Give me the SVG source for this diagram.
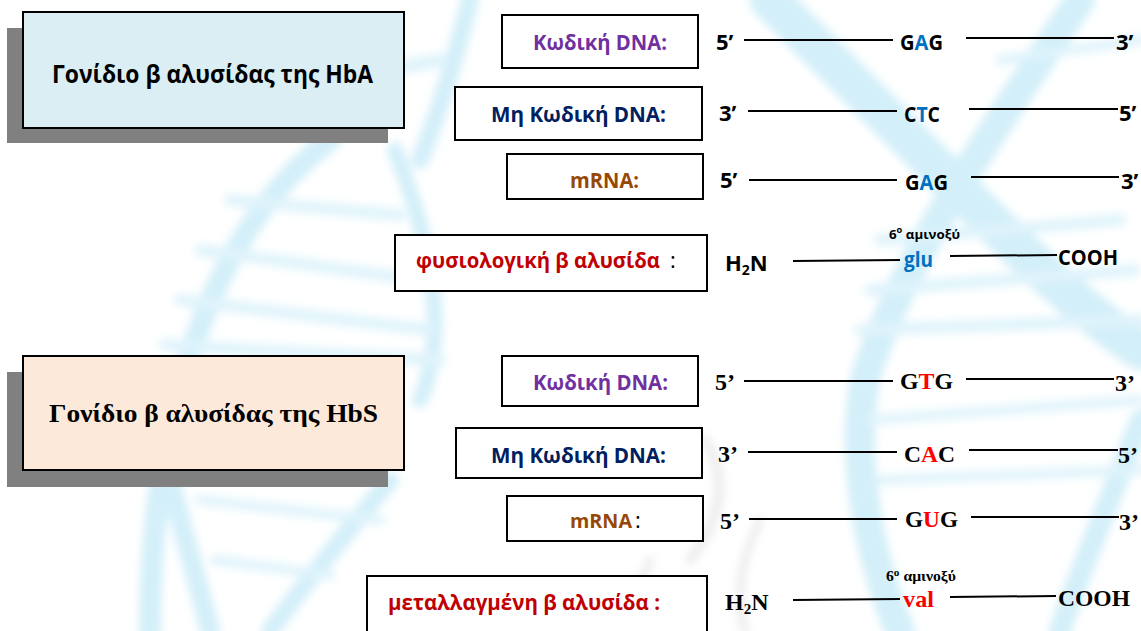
<svg xmlns="http://www.w3.org/2000/svg" width="1141" height="631" viewBox="0 0 1141 631">
  <defs>
    <filter id="soft" x="-10%" y="-10%" width="120%" height="120%">
      <feGaussianBlur stdDeviation="4"/>
    </filter>
    <style>
      .sans { font-family: "Open Sans", "Liberation Sans", sans-serif; font-weight: bold; }
      .serif { font-family: "Liberation Serif", "DejaVu Serif", serif; font-weight: bold; }
      .box { fill: #ffffff; stroke: #000000; stroke-width: 2; }
      .shadow { fill: #808080; }
      .wire { stroke: #000000; stroke-width: 2; fill: none; }
      .strand { fill: none; stroke: #9edcf2; stroke-linecap: round; }
      .rung { fill: none; stroke: #b9e6f6; stroke-linecap: round; }
      .gray { fill: none; stroke: #d6d6d6; stroke-linecap: round; }
      .purple { fill: #7030a0; }
      .navy { fill: #002060; }
      .brown { fill: #984806; }
      .red { fill: #c00000; }
      .blue { fill: #0070c0; }
      .hot { fill: #ff0000; }
      .ink { fill: #000000; }
    </style>
  </defs>

  <rect width="1141" height="631" fill="#ffffff"/>

  <!-- faint double helix backdrop -->
  <g id="backdrop" filter="url(#soft)" opacity="0.45">
    <!-- left helix -->
    <path class="strand" stroke-width="22" d="M150 631 C 150 420, 210 230, 330 140"/>
    <path class="strand" stroke-width="16" d="M395 150 C 430 240, 450 330, 420 400"/>
    <path class="strand" stroke-width="18" d="M470 0 C 455 60, 440 110, 420 160"/>
    <path class="strand" stroke-width="20" d="M170 480 C 185 540, 200 590, 210 631"/>
    <path class="strand" stroke-width="18" d="M390 480 C 340 540, 300 590, 270 631"/>
    <path class="rung" stroke-width="12" d="M230 200 L 400 215"/>
    <path class="rung" stroke-width="12" d="M200 250 L 420 280"/>
    <path class="rung" stroke-width="12" d="M180 300 L 430 330"/>
    <path class="rung" stroke-width="12" d="M165 345 L 440 360"/>
    <path class="rung" stroke-width="10" d="M200 500 L 380 520"/>
    <path class="rung" stroke-width="10" d="M215 560 L 330 575"/>
    <path class="rung" stroke-width="14" d="M330 80 L 440 60"/>
    <!-- right helix -->
    <path class="strand" stroke-width="40" d="M770 0 C 850 80, 930 160, 1000 230 C 1060 290, 1110 330, 1141 350"/>
    <path class="strand" stroke-width="30" d="M1080 0 C 1000 120, 900 260, 865 380 C 850 460, 870 560, 900 631"/>
    <path class="strand" stroke-width="22" d="M1141 420 C 1110 500, 1080 570, 1060 631"/>
    <path class="rung" stroke-width="12" d="M880 240 L 1120 220"/>
    <path class="rung" stroke-width="12" d="M870 290 L 1135 270"/>
    <path class="rung" stroke-width="12" d="M860 330 L 1141 320"/>
    <path class="rung" stroke-width="10" d="M870 420 L 1141 400"/>
    <path class="rung" stroke-width="10" d="M880 480 L 1141 470"/>
    <path class="rung" stroke-width="10" d="M1000 60 L 1141 40"/>
    <!-- gray fragment behind the lower boxes -->
    <path class="gray" stroke-width="10" d="M705 440 C 730 480, 720 520, 690 560"/>
    <path class="gray" stroke-width="8" d="M650 560 C 640 590, 620 610, 600 631"/>
    <path class="gray" stroke-width="8" d="M760 520 C 740 560, 735 600, 745 631"/>
  </g>

  <!-- title: normal haemoglobin gene -->
  <g id="title-hba">
    <rect class="shadow" x="7" y="28" width="381" height="115"/>
    <rect x="23" y="12" width="381" height="116" fill="#daeef3" stroke="#000000" stroke-width="2"/>
    <text class="sans ink" x="52" y="83" font-size="25" textLength="321" lengthAdjust="spacingAndGlyphs">Γονίδιο β αλυσίδας της HbA</text>
  </g>

  <!-- title: sickle haemoglobin gene -->
  <g id="title-hbs">
    <rect class="shadow" x="7" y="372" width="381" height="115"/>
    <rect x="23" y="356" width="381" height="114" fill="#fde9d9" stroke="#000000" stroke-width="2"/>
    <text class="serif ink" x="49" y="422" font-size="25" textLength="329" lengthAdjust="spacingAndGlyphs">Γονίδιο β αλυσίδας της HbS</text>
  </g>

  <!-- HbA rows -->
  <g id="hba-coding">
    <rect class="box" x="502" y="15" width="196" height="53"/>
    <text class="sans purple" x="533" y="50" font-size="22" textLength="134" lengthAdjust="spacingAndGlyphs">Κωδική DNA:</text>
    <text class="sans ink" x="716" y="50" font-size="22">5’</text>
    <text class="sans ink" x="900" y="50" font-size="22" textLength="43" lengthAdjust="spacingAndGlyphs">G<tspan class="blue">A</tspan>G</text>
    <text class="sans ink" x="1116" y="50" font-size="22">3’</text>
  </g>
  <g id="hba-template">
    <rect class="box" x="455" y="87" width="247" height="53"/>
    <text class="sans navy" x="491" y="122" font-size="22" textLength="175" lengthAdjust="spacingAndGlyphs">Μη Κωδική DNA:</text>
    <text class="sans ink" x="719" y="121" font-size="22">3’</text>
    <text class="sans ink" x="904" y="122" font-size="22" textLength="36" lengthAdjust="spacingAndGlyphs">C<tspan class="blue">T</tspan>C</text>
    <text class="sans ink" x="1119" y="121" font-size="22">5’</text>
  </g>
  <g id="hba-mrna">
    <rect class="box" x="507" y="154" width="196" height="45"/>
    <text class="sans brown" x="570" y="188" font-size="22" textLength="69" lengthAdjust="spacingAndGlyphs">mRNA:</text>
    <text class="sans ink" x="720" y="188" font-size="22">5’</text>
    <text class="sans ink" x="905" y="190" font-size="22" textLength="43" lengthAdjust="spacingAndGlyphs">G<tspan class="blue">A</tspan>G</text>
    <text class="sans ink" x="1121" y="189" font-size="22">3’</text>
  </g>
  <g id="hba-chain">
    <rect class="box" x="395" y="235" width="312" height="56"/>
    <text class="sans red" x="416" y="268" font-size="21" textLength="244" lengthAdjust="spacingAndGlyphs">φυσιολογική β αλυσίδα</text>
    <text class="ink" x="670" y="268" font-size="22" font-family="'Open Sans', 'Liberation Sans', sans-serif">:</text>
    <text class="sans ink" x="725" y="271" font-size="22">H<tspan font-size="14" dy="4">2</tspan><tspan dy="-4">N</tspan></text>
    <text class="sans ink" x="889" y="239" font-size="13" textLength="71" lengthAdjust="spacingAndGlyphs">6<tspan font-size="9" dy="-6">ο</tspan><tspan dy="6"> αμινοξύ</tspan></text>
    <text class="sans blue" x="904" y="267" font-size="22" textLength="29" lengthAdjust="spacingAndGlyphs">glu</text>
    <text class="sans ink" x="1058" y="265" font-size="22" textLength="60" lengthAdjust="spacingAndGlyphs">COOH</text>
  </g>

  <!-- HbS rows -->
  <g id="hbs-coding">
    <rect class="box" x="502" y="356" width="196" height="50"/>
    <text class="sans purple" x="533" y="390" font-size="22" textLength="135" lengthAdjust="spacingAndGlyphs">Κωδική DNA:</text>
    <text class="serif ink" x="715" y="390" font-size="24">5’</text>
    <text class="serif ink" x="900" y="389" font-size="24" textLength="53" lengthAdjust="spacingAndGlyphs">G<tspan class="hot">T</tspan>G</text>
    <text class="serif ink" x="1115" y="391" font-size="24">3’</text>
  </g>
  <g id="hbs-template">
    <rect class="box" x="456" y="428" width="246" height="50"/>
    <text class="sans navy" x="491" y="463" font-size="22" textLength="175" lengthAdjust="spacingAndGlyphs">Μη Κωδική DNA:</text>
    <text class="serif ink" x="718" y="462" font-size="24">3’</text>
    <text class="serif ink" x="904" y="462" font-size="24" textLength="51" lengthAdjust="spacingAndGlyphs">C<tspan class="hot">A</tspan>C</text>
    <text class="serif ink" x="1118" y="463" font-size="24">5’</text>
  </g>
  <g id="hbs-mrna">
    <rect class="box" x="507" y="496" width="196" height="45"/>
    <text class="sans brown" x="570" y="528" font-size="20" textLength="62" lengthAdjust="spacingAndGlyphs">mRNA</text>
    <text class="ink" x="635" y="528" font-size="22" font-family="'Open Sans', 'Liberation Sans', sans-serif">:</text>
    <text class="serif ink" x="720" y="529" font-size="24">5’</text>
    <text class="serif ink" x="905" y="527" font-size="24" textLength="53" lengthAdjust="spacingAndGlyphs">G<tspan class="hot">U</tspan>G</text>
    <text class="serif ink" x="1119" y="530" font-size="24">3’</text>
  </g>
  <g id="hbs-chain">
    <rect class="box" x="367" y="576" width="340" height="70"/>
    <text class="sans red" x="388" y="610" font-size="22" textLength="272" lengthAdjust="spacingAndGlyphs">μεταλλαγμένη β αλυσίδα :</text>
    <text class="serif ink" x="725" y="610" font-size="24">H<tspan font-size="15" dy="4">2</tspan><tspan dy="-4">N</tspan></text>
    <text class="serif ink" x="886" y="581" font-size="14" textLength="70" lengthAdjust="spacingAndGlyphs">6<tspan font-size="10" dy="-5">ο</tspan><tspan dy="5"> αμινοξύ</tspan></text>
    <text class="serif hot" x="903" y="607" font-size="24" textLength="31" lengthAdjust="spacingAndGlyphs">val</text>
    <text class="serif ink" x="1058" y="606" font-size="24" textLength="72" lengthAdjust="spacingAndGlyphs">COOH</text>
  </g>

  <!-- strand lines between the end labels and the codon -->
  <g id="connectors">
    <line class="wire" x1="744" y1="40" x2="893" y2="40"/>
    <line class="wire" x1="966" y1="38" x2="1114" y2="38"/>
    <line class="wire" x1="748" y1="111" x2="897" y2="111"/>
    <line class="wire" x1="969" y1="109" x2="1118" y2="109"/>
    <line class="wire" x1="749" y1="180" x2="897" y2="180"/>
    <line class="wire" x1="971" y1="177" x2="1119" y2="177"/>
    <line class="wire" x1="793" y1="261" x2="900" y2="260"/>
    <line class="wire" x1="950" y1="256" x2="1057" y2="255"/>

    <line class="wire" x1="744" y1="381" x2="893" y2="381"/>
    <line class="wire" x1="966" y1="379" x2="1114" y2="379"/>
    <line class="wire" x1="748" y1="452" x2="897" y2="452"/>
    <line class="wire" x1="969" y1="450" x2="1118" y2="450"/>
    <line class="wire" x1="749" y1="519" x2="897" y2="519"/>
    <line class="wire" x1="971" y1="517" x2="1119" y2="517"/>
    <line class="wire" x1="793" y1="600" x2="900" y2="599"/>
    <line class="wire" x1="950" y1="597" x2="1056" y2="596"/>
  </g>
</svg>
